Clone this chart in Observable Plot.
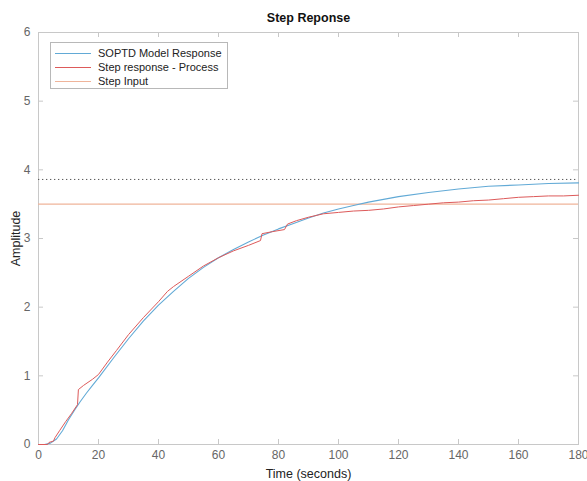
<!DOCTYPE html>
<html>
<head>
<meta charset="utf-8">
<script src="https://cdn.jsdelivr.net/npm/d3@7"></script>
<script src="https://cdn.jsdelivr.net/npm/@observablehq/plot@0.6"></script>
<style>
  body { margin: 0; background: #fff; font-family: "Liberation Sans", Arial, sans-serif; }
  #wrap { position: relative; width: 587px; height: 481px; }
  #legend { position: absolute; left: 50px; top: 42px; width: 178px; height: 47px; border: 1px solid #b8b8b8; background: #fff; box-sizing: border-box; font-size: 11px; color: #222; }
  #legend .row { position: absolute; left: 4px; height: 14px; display: flex; align-items: center; }
  #legend .sw { width: 36px; height: 0; margin-right: 7px; }
</style>
</head>
<body>
<div id="wrap"></div>
<script>
// Model (SOPTD) response: time, amplitude
const modelT = [0,2,4,6,8,10,12,14,16,18,20,25,30,35,40,45,50,55,60,65,70,75,80,85,90,95,100,105,110,115,120,130,140,150,160,170,180];
const modelV = [0,0,0.02,0.08,0.2,0.36,0.5,0.63,0.75,0.86,0.97,1.26,1.54,1.8,2.03,2.23,2.42,2.58,2.72,2.84,2.95,3.05,3.14,3.22,3.3,3.37,3.43,3.48,3.53,3.57,3.61,3.67,3.72,3.76,3.78,3.8,3.81];
// Measured process step response
const procT = [0,3,3.5,5,5.5,7,9,11,13,13.3,15,18,20,23,26,30,35,40,43,45,50,55,60,65,70,74,74.5,78,82,83,86,90,95,100,105,110,115,120,125,130,135,140,145,150,155,160,165,170,175,180];
const procV = [0,0,0.03,0.05,0.1,0.2,0.33,0.45,0.58,0.8,0.86,0.95,1.02,1.2,1.37,1.6,1.85,2.08,2.23,2.3,2.45,2.6,2.72,2.82,2.9,2.97,3.07,3.1,3.13,3.21,3.26,3.31,3.36,3.38,3.4,3.41,3.43,3.46,3.48,3.5,3.52,3.53,3.55,3.56,3.58,3.6,3.61,3.62,3.62,3.63];
const stepInput = 3.5;
const finalValue = 3.86;
const xTicks = [0,20,40,60,80,100,120,140,160,180];
const yTicks = [0,1,2,3,4,5,6];

const model = modelT.map((t, i) => ({t, v: modelV[i]}));
const proc = procT.map((t, i) => ({t, v: procV[i]}));

const blue = "#62aad6", red = "#dd5a5a", orange = "#efb49a";
const plot = Plot.plot({
  width: 587, height: 481,
  marginLeft: 38, marginRight: 9, marginTop: 32, marginBottom: 37,
  style: {fontFamily: "Liberation Sans, Arial, sans-serif", fontSize: "12px", background: "#fff", overflow: "visible"},
  x: {domain: [0, 180]},
  y: {domain: [0, 6]},
  marks: [
    Plot.frame({stroke: "#c8c8c8"}),
    Plot.tickX(xTicks, {x: d => d, insetTop: 407, stroke: "#c8c8c8"}),
    Plot.tickX(xTicks, {x: d => d, insetBottom: 407, stroke: "#c8c8c8"}),
    Plot.tickY(yTicks, {y: d => d, insetRight: 535, stroke: "#c8c8c8"}),
    Plot.tickY(yTicks, {y: d => d, insetLeft: 535, stroke: "#c8c8c8"}),
    Plot.axisX({ticks: xTicks, tickFormat: d => String(d), tickSize: 0, tickPadding: 6, fill: "#666", fontSize: 12,
      label: "Time (seconds)", labelAnchor: "center", labelOffset: 33, labelArrow: "none"}),
    Plot.axisY({ticks: yTicks, tickFormat: d => String(d), tickSize: 0, tickPadding: 8, fill: "#666", fontSize: 12,
      label: "Amplitude", labelAnchor: "center", labelOffset: 27, labelArrow: "none"}),
    Plot.ruleY([stepInput], {stroke: orange, strokeWidth: 1.2}),
    Plot.ruleY([finalValue], {stroke: "#555", strokeDasharray: "1.3,2.7", strokeWidth: 1}),
    Plot.line(model, {x: "t", y: "v", stroke: blue, strokeWidth: 1.1}),
    Plot.line(proc, {x: "t", y: "v", stroke: red, strokeWidth: 1, curve: "linear"}),
    Plot.text(["Step Reponse"], {frameAnchor: "top", dy: -19, fontWeight: "bold", fontSize: 12.5, fill: "#111"})
  ]
});
// dark axis label color
d3.select(plot).selectAll("g[aria-label='x-axis label'] text, g[aria-label='y-axis label'] text").attr("fill", "#222").attr("font-size", 12.5);
const wrap = document.getElementById("wrap");
wrap.appendChild(plot);

const legendItems = [
  {name: "SOPTD Model Response", color: blue},
  {name: "Step response - Process", color: red},
  {name: "Step Input", color: orange}
];
const lg = document.createElement("div");
lg.id = "legend";
legendItems.forEach((it, i) => {
  const row = document.createElement("div");
  row.className = "row";
  row.style.top = (3 + i * 14) + "px";
  const sw = document.createElement("span");
  sw.className = "sw";
  sw.style.borderTop = "1px solid " + it.color;
  const tx = document.createElement("span");
  tx.textContent = it.name;
  row.appendChild(sw); row.appendChild(tx);
  lg.appendChild(row);
});
wrap.appendChild(lg);
</script>
</body>
</html>
